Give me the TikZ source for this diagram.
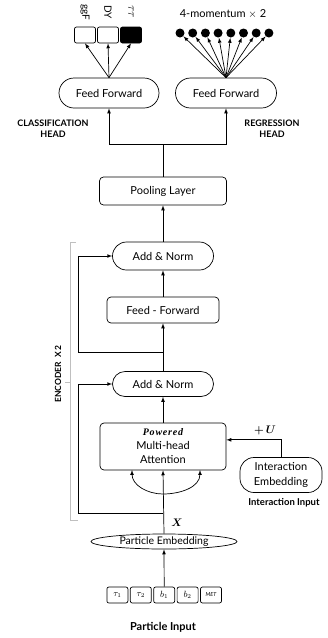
\documentclass[tikz,border=0pt]{standalone}
\usepackage{amsmath}
\usepackage{bm}
\usepackage{fontspec}
\setmainfont{Lato}
\newfontfamily\pwfont[LetterSpace=8.0]{Liberation Serif}
\usetikzlibrary{arrows}
\usetikzlibrary{shapes.misc}
\usetikzlibrary{shapes.geometric}

\begin{document}
\begin{tikzpicture}[x=1pt, y=-1pt, line width=0.7pt, font=\fontsize{11}{13}\selectfont,
    pill/.style={draw, rounded rectangle, minimum height=28, inner xsep=1, inner ysep=2},
    blk/.style={draw, rounded corners=4, inner sep=2},
    tok/.style={draw, rounded corners=2, minimum width=21, minimum height=16, inner sep=0, font=\fontsize{9}{10}\selectfont},
    lbl/.style={font=\bfseries\fontsize{9}{11}\selectfont, align=center}]
      \useasboundingbox (0,0) rectangle (328,638);

      % heads
      \node[pill, minimum width=102, minimum height=30] (ffc) at (109,93) {Feed Forward};
      \node[pill, minimum width=103, minimum height=30] (ffr) at (226,93) {Feed Forward};
      \node[lbl] (chead) at (53,129) {CLASSIFICATION\\HEAD};
      \node[lbl] (rhead) at (272,129) {REGRESSION\\HEAD};

      \foreach \x/\c/\t [count=\i] in {85/white/ggF, 108/white/DY, 131/black/{\fontsize{13}{14}\selectfont$\tau\tau$}} {
        \node[draw, rounded corners=2, fill=\c, minimum width=21, minimum height=16] (c\i) at (\x,35) {};
        \node[rotate=-90, font=\fontsize{10}{11}\selectfont] (cl\i) at (\x,12) {\t};
        \draw[-latex] (ffc.north) -- (c\i.south);
      }

      \node (mom) at (223,14) {4-momentum $\times$ 2};
      \foreach \i in {0, ..., 7} {
        \node[circle, fill, inner sep=0, minimum size=9] (m\i) at ({180+12.7*\i},33) {};
        \draw[-latex] (ffr.north) -- (m\i);
      }

      \node[blk, minimum width=127, minimum height=28] (pool) at (163,191) {Pooling Layer};
      \coordinate (split) at (163,144);
      \draw (pool.north) -- (split);
      \draw[-latex] (split) -| (ffc.south);
      \draw[-latex] (split) -| (ffr.south);

      % encoder
      \node[pill, minimum width=103] (an1) at (163,256) {Add \& Norm};
      \node[blk, minimum width=112, minimum height=26] (ff) at (163,310) {Feed - Forward};
      \node[pill, minimum width=103, minimum height=25] (an2) at (163,384) {Add \& Norm};
      \node[blk, minimum width=126, minimum height=47, align=center] (mha) at (163,446.5)
        {{\pwfont\itshape\bfseries\fontsize{10}{11}\selectfont Powered}\\[1pt]Multi-head\\[1pt]Attention};
      \node[draw, rounded corners=14, minimum width=82, minimum height=35, inner sep=1, align=center] (ie) at (281,475) {Interaction\\[2pt]Embedding};
      \node[font=\bfseries\fontsize{9.5}{11}\selectfont] (iin) at (284,503) {Interaction Input};
      \node (uplus) at (265,430) {$\bm{+\,U}$};

      \draw[-latex] (an1.north) -- (pool.south);
      \draw[-latex] (ff.north) -- (an1.south);
      \draw[-latex] (an2.north) -- (ff.south);
      \draw[-latex] (mha.north) -- (an2.south);
      \draw[-latex] (ie.north) |- (mha.6);

      \coordinate (s1) at (163,352);
      \coordinate (k1) at (78,352);
      \draw[-latex] (s1) -- (k1) |- (an1.west);
      \coordinate (s2) at (163,513);
      \coordinate (k2) at (78,513);
      \draw[-latex] (s2) -- (k2) |- (an2.west);

      \coordinate (fork) at (163,494);
      \coordinate (a1) at (132,470);
      \coordinate (a2) at (200,470);
      \draw[latex-latex] (a1) to[out=-90, in=180] (fork) to[out=0, in=-90] (a2);

      % encoder bracket
      \draw[gray!50] (76,242) -- (70,242) -- (70,520) -- (78,520);
      \draw[gray!50] (65,382) -- (70,382);
      \node[rotate=90, font=\bfseries\fontsize{8.5}{10}\selectfont] (enc) at (58,374) {ENCODER\ \ X 2};

      % input
      \node[draw, ellipse, minimum width=146, minimum height=15, inner sep=0, font=\fontsize{10.5}{12}\selectfont] (pe) at (164,541.5) {Particle Embedding};
      \node (xlab) at (177,523) {$\bm{X}$};
      \draw[-latex] (pe.north) -- (mha.south);

      \foreach \t [count=\i] in {$\tau_1$, $\tau_2$, $b_1$, $b_2$, {\fontsize{5.5}{6}\selectfont\itshape MET}}
        \node[tok] (t\i) at ({94+23.4*\i},595) {\t};
      \draw[-latex] (t3.north) -- (pe.south);
      \node[font=\bfseries\fontsize{11}{13}\selectfont] (pin) at (163,627) {Particle Input};
    \end{tikzpicture}
\end{document}
